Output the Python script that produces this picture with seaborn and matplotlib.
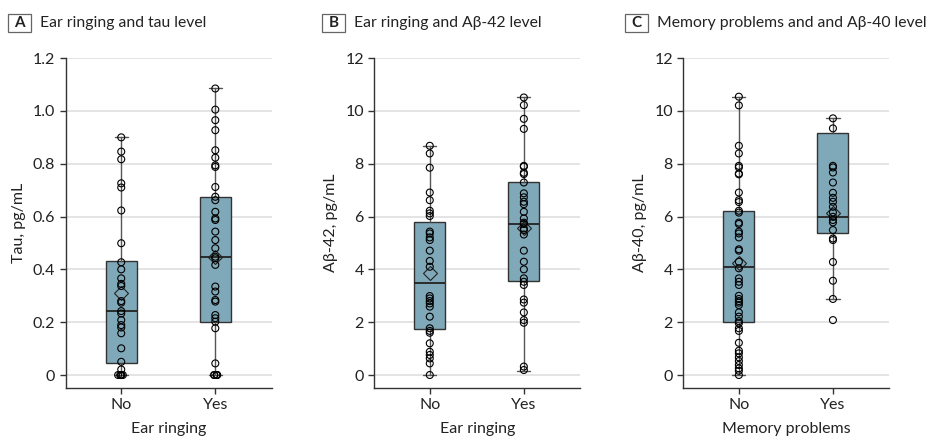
import numpy as np
import pandas as pd
import seaborn as sns
import matplotlib.pyplot as plt
from matplotlib.patches import Rectangle

sns.set_style("ticks")
plt.rcParams["font.family"] = ["Lato", "DejaVu Sans"]

categories = ["No", "Yes"]

# Panel A: tau
a_no = [0.90, 0.846, 0.817, 0.726, 0.71, 0.623, 0.499, 0.427, 0.40, 0.366, 0.345,
        0.337, 0.28, 0.274, 0.242, 0.233, 0.208, 0.189, 0.18, 0.158, 0.101, 0.05,
        0.021, 0, 0, 0, 0, 0]
a_yes = [1.085, 1.005, 0.965, 0.927, 0.851, 0.823, 0.794, 0.788, 0.712, 0.675, 0.662,
         0.618, 0.593, 0.587, 0.543, 0.511, 0.48, 0.448, 0.442, 0.417, 0.335, 0.316,
         0.284, 0.278, 0.227, 0.215, 0.202, 0.177, 0.044, 0, 0, 0, 0, 0, 0]
a_q1 = [0.044, 0.199]
a_med = [0.244, 0.448]
a_q3 = [0.43, 0.675]
a_lo = [0, 0]
a_hi = [0.90, 1.085]
a_mean = [0.309, 0.445]

# Panel B: Abeta-42
b_no = [8.68, 8.39, 7.85, 6.91, 6.62, 6.22, 6.12, 6.02, 5.43, 5.36, 5.21, 5.11, 4.71,
        4.32, 4.10, 2.99, 2.90, 2.80, 2.71, 2.59, 2.21, 1.77, 1.67, 1.60, 1.20, 0.88,
        0.76, 0.63, 0.44, 0]
b_yes = [10.51, 10.22, 9.70, 9.32, 7.92, 7.89, 7.66, 7.61, 7.29, 6.88, 6.73, 6.56, 6.47,
         6.18, 5.93, 5.77, 5.72, 5.55, 5.49, 5.32, 4.71, 4.29, 4.00, 3.66, 3.53, 3.41,
         2.86, 2.74, 2.37, 2.08, 1.98, 0.32, 0.19]
b_q1 = [1.74, 3.56]
b_med = [3.48, 5.70]
b_q3 = [5.78, 7.31]
b_lo = [0, 0.17]
b_hi = [8.68, 10.51]
b_mean = [3.87, 5.55]

# Panel C: Abeta-40
c_no = [10.54, 10.21, 8.68, 8.39, 7.92, 7.86, 7.63, 7.60, 6.91, 6.62, 6.55, 6.22, 6.15,
        5.77, 5.72, 5.43, 5.36, 5.21, 4.76, 4.71, 4.29, 4.04, 3.66, 3.53, 3.41, 3.00,
        2.88, 2.80, 2.74, 2.65, 2.37, 2.21, 2.04, 1.96, 1.77, 1.67, 1.22, 0.92, 0.82,
        0.67, 0.53, 0.38, 0.25, 0.16, 0]
c_yes = [9.72, 9.34, 7.92, 7.86, 7.67, 7.29, 6.90, 6.71, 6.56, 6.37, 6.16, 5.99, 5.87,
         5.78, 5.49, 5.17, 5.11, 4.28, 3.57, 2.88, 2.08]
c_q1 = [1.99, 5.36]
c_med = [4.08, 5.99]
c_q3 = [6.21, 9.15]
c_lo = [0, 2.88]
c_hi = [10.54, 9.72]
c_mean = [4.23, 6.12]

a_ticks = [0, 0.2, 0.4, 0.6, 0.8, 1.0, 1.2]
a_ticklabels = ["0", "0.2", "0.4", "0.6", "0.8", "1.0", "1.2"]
bc_ticks = [0, 2, 4, 6, 8, 10, 12]
bc_ticklabels = ["0", "2", "4", "6", "8", "10", "12"]

BOX = "#7fa8b8"
DARK = "#333333"

fig = plt.figure(figsize=(9.31, 4.4), dpi=100)
lefts = [0.0706, 0.402, 0.734]
axes = [fig.add_axes([l, 0.1189, 0.2213, 0.749]) for l in lefts]

panels = [
    dict(no=a_no, yes=a_yes, q1=a_q1, med=a_med, q3=a_q3, lo=a_lo, hi=a_hi, mean=a_mean,
         ticks=a_ticks, labels=a_ticklabels, ylim=(-0.048, 1.2),
         ylabel="Tau, pg/mL", xlabel="Ear ringing"),
    dict(no=b_no, yes=b_yes, q1=b_q1, med=b_med, q3=b_q3, lo=b_lo, hi=b_hi, mean=b_mean,
         ticks=bc_ticks, labels=bc_ticklabels, ylim=(-0.48, 12),
         ylabel="Aβ-42, pg/mL", xlabel="Ear ringing"),
    dict(no=c_no, yes=c_yes, q1=c_q1, med=c_med, q3=c_q3, lo=c_lo, hi=c_hi, mean=c_mean,
         ticks=bc_ticks, labels=bc_ticklabels, ylim=(-0.48, 12),
         ylabel="Aβ-40, pg/mL", xlabel="Memory problems"),
]

np.random.seed(3)
for ax, p in zip(axes, panels):
    stats = []
    for i, g in enumerate(categories):
        stats.append(dict(label=g, q1=p["q1"][i], med=p["med"][i], q3=p["q3"][i],
                          whislo=p["lo"][i], whishi=p["hi"][i], mean=p["mean"][i],
                          fliers=[]))
    ax.bxp(stats, positions=[0, 1], widths=0.33, capwidths=0.14, patch_artist=True,
           showmeans=True, manage_ticks=False,
           boxprops=dict(facecolor=BOX, edgecolor=DARK, linewidth=1, zorder=2),
           medianprops=dict(color="#222222", linewidth=1.3, zorder=2.5),
           whiskerprops=dict(color="#555555", linewidth=1, zorder=2),
           capprops=dict(color="#555555", linewidth=1, zorder=2),
           meanprops=dict(marker="D", markerfacecolor="none", markeredgecolor="#222222",
                          markersize=7.5, markeredgewidth=0.8, zorder=3))

    df = pd.DataFrame({"group": ["No"] * len(p["no"]) + ["Yes"] * len(p["yes"]),
                       "value": p["no"] + p["yes"]})
    dup = df.duplicated(["group", "value"], keep=False)
    sns.stripplot(data=df[~dup], x="group", y="value", order=categories, jitter=False,
                  size=5, color="k", edgecolor="k", linewidth=0.8, ax=ax, zorder=4)
    if dup.any():
        sns.stripplot(data=df[dup], x="group", y="value", order=categories, jitter=0.04,
                      size=5, color="k", edgecolor="k", linewidth=0.8, ax=ax, zorder=4)
    for coll in ax.collections:
        coll.set_facecolor("none")

    ax.set_xlim(-0.59, 1.6)
    ax.set_ylim(*p["ylim"])
    ax.set_yticks(p["ticks"])
    ax.set_yticklabels(p["labels"])
    ax.set_xticks([0, 1])
    ax.set_xticklabels(categories)
    ax.yaxis.grid(True, color="#e2e2e2", linewidth=1.3)
    ax.xaxis.grid(False)
    ax.set_axisbelow(True)
    sns.despine(ax=ax)
    for s in ["left", "bottom"]:
        ax.spines[s].set_color(DARK)
        ax.spines[s].set_linewidth(1)
    ax.tick_params(length=4, width=1, color=DARK, labelsize=11.5, labelcolor="#222222")
    ax.set_ylabel(p["ylabel"], fontsize=11.5, color="#222222", labelpad=5)
    ax.set_xlabel(p["xlabel"], fontsize=11.5, color="#222222", labelpad=7)

titles = ["Ear ringing and tau level", "Ear ringing and Aβ-42 level",
          "Memory problems and and Aβ-40 level"]
letters = ["A", "B", "C"]
box_x = [8, 322, 625]
text_x = [40, 354, 657]
W, H = 931, 440
for letter, t, bx, tx in zip(letters, titles, box_x, text_x):
    fig.add_artist(Rectangle((bx / W, 1 - 32 / H), 22.7 / W, 18 / H,
                             transform=fig.transFigure, fill=False,
                             edgecolor="#666666", linewidth=0.9))
    fig.text((bx + 11.3) / W, 1 - 23 / H, letter, fontsize=11, fontweight="bold",
             ha="center", va="center", color="#222222")
    fig.text(tx / W, 1 - 23 / H, t, fontsize=11.3, ha="left", va="center", color="#222222")

fig.savefig("out.png", dpi=100)
